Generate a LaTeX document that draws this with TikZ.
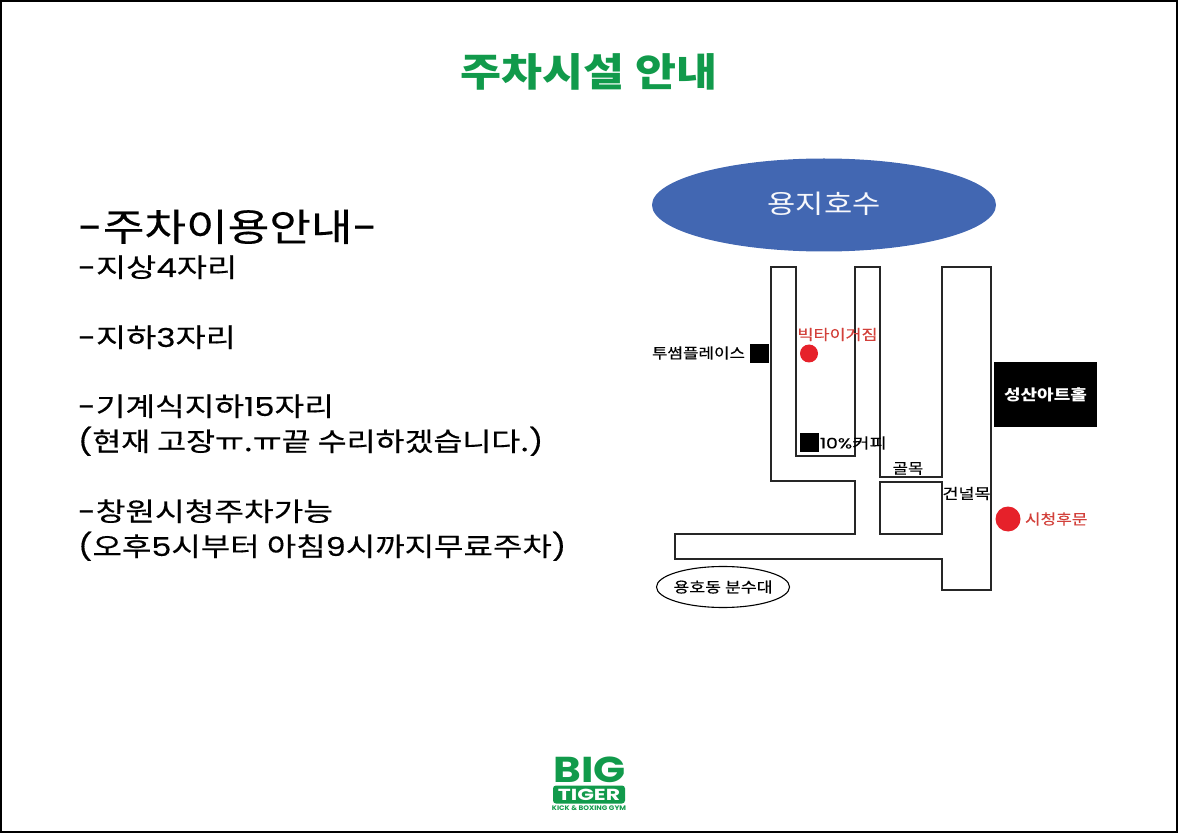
\documentclass[tikz,border=0pt]{standalone}
\usepackage{fontspec}
\usetikzlibrary{shapes.geometric}
\setmainfont{Noto Sans CJK KR}
\newfontfamily\medf[FakeBold=0.35]{Noto Sans CJK KR}
\newfontfamily\lat{Poppins}
\newfontfamily\latm[FakeBold=0.35]{Poppins}
\newcommand{\fs}[1]{\fontsize{#1}{#1}\selectfont}
\newcommand{\wx}[2]{\scalebox{#1}[1]{#2}}
\newcommand{\ds}{{\latm -}}
\definecolor{tgreen}{HTML}{119A4B}
\definecolor{lake}{HTML}{4267B2}
\definecolor{mapred}{HTML}{E6212A}
\definecolor{labred}{HTML}{D2403A}
\tikzset{
  x=1pt,y=-1pt,
  txt/.style={inner sep=0pt,outer sep=0pt},
  listline/.style={txt,anchor=base west,font=\medf\fs{26}},
  maptxt/.style={txt,font=\medf\fs{14.5}},
  road/.style={draw=black!85,line width=1.3pt,line join=miter},
  blk/.style={fill=black,draw=none,inner sep=0pt,minimum width=19pt,minimum height=19pt},
  reddot/.style={circle,fill=mapred,draw=none,inner sep=0pt}
}
\begin{document}
\begin{tikzpicture}
\useasboundingbox (0,0) rectangle (1179,834);
\draw[black,line width=1.3pt] (1,1) rectangle (1177,832);
% title
\node[txt,font=\fs{39}\bfseries,text=tgreen] (title) at (589,72) {\wx{1.143}{주차시설 안내}};
% list
\node[listline,font=\medf\fs{38}] (h) at (78,241) {\wx{1.19}{\ds 주차이용안내\ds}};
\node[listline] (l1) at (78,277) {\wx{1.26}{\ds 지상{\latm 4}자리}};
\node[listline] (l2) at (78,347) {\wx{1.26}{\ds 지하{\latm 3}자리}};
\node[listline] (l3) at (78,416) {\wx{1.24}{\ds 기계식지하{\latm 15}자리}};
\node[listline] (l4) at (78,451) {\wx{1.21}{{\latm (}현재 고장ㅠ.ㅠ끝 수리하겠습니다.{\latm )}}};
\node[listline] (l5) at (78,521) {\wx{1.24}{\ds 창원시청주차가능}};
\node[listline] (l6) at (78,556) {\wx{1.23}{{\latm (}오후{\latm 5}시부터 아침{\latm 9}시까지무료주차{\latm )}}};
% lake
\node[ellipse,fill=lake,draw=none,minimum width=344pt,minimum height=93pt,inner sep=0pt,font=\fs{26},text=white!95!lake] (lk) at (824,205) {\raisebox{5pt}{\wx{1.18}{용지호수}}};
% roads
\draw[road] (796,267)--(771,267)--(771,481)--(855,481)--(855,534)--(675,534)--(675,559)--(942,559)--(942,590)--(991,590)--(991,267)--(942,267)--(942,477)--(880,477)--(880,267)--(855,267)--(855,456)--(796,456)--cycle;
\draw[road] (880,482) rectangle (942,534);
% markers
\node[blk] (sq1) at (759,353.5) {};
\node[blk] (sq2) at (809,442.5) {};
\node[reddot,minimum size=18pt] (d1) at (809,353.5) {};
\node[reddot,minimum size=25pt] (d2) at (1008,519) {};
\node[fill=black,inner sep=0pt,minimum width=103pt,minimum height=65pt,font=\fs{15}\bfseries,text=white] (hall) at (1045.5,394.5) {\wx{1.2}{성산아트홀}};
\node[maptxt,text=labred] (bt) at (837.5,334.5) {\wx{1.2}{빅타이거짐}};
\node[maptxt] (ts) at (698.5,353) {\wx{1.16}{투썸플레이스}};
\node[maptxt,anchor=west] (cf) at (820,443) {\wx{1.3}{{\latm 10\%}커피}};
\node[maptxt] (gm) at (908,468.5) {\wx{1.15}{골목}};
\node[maptxt] (gn) at (966.5,493.5) {\wx{1.2}{건널목}};
\node[maptxt,text=labred,anchor=west] (sc) at (1025,519) {\wx{1.17}{시청후문}};
\node[ellipse,draw=black,line width=1.1pt,fill=white,minimum width=133pt,minimum height=41pt,inner sep=0pt] (fn) at (723,587) {};
\node[maptxt] (fnt) at (fn.center) {\wx{1.19}{용호동 분수대}};
% logo
\node[txt,font=\lat\fs{36}\bfseries,text=tgreen] (big) at (589.5,769.5) {\wx{1.17}{BIG}};
\node[fill=tgreen,rounded corners=3pt,minimum width=72pt,minimum height=18pt,inner sep=0pt,font=\lat\fs{16}\bfseries,text=white] (tg) at (589,794.5) {\wx{1.37}{TIGER}};
\node[txt,font=\lat\fs{6.6}\bfseries,text=tgreen] (kb) at (589,808.5) {\wx{1.1}{KICK \& BOXING GYM}};
\end{tikzpicture}
\end{document}
